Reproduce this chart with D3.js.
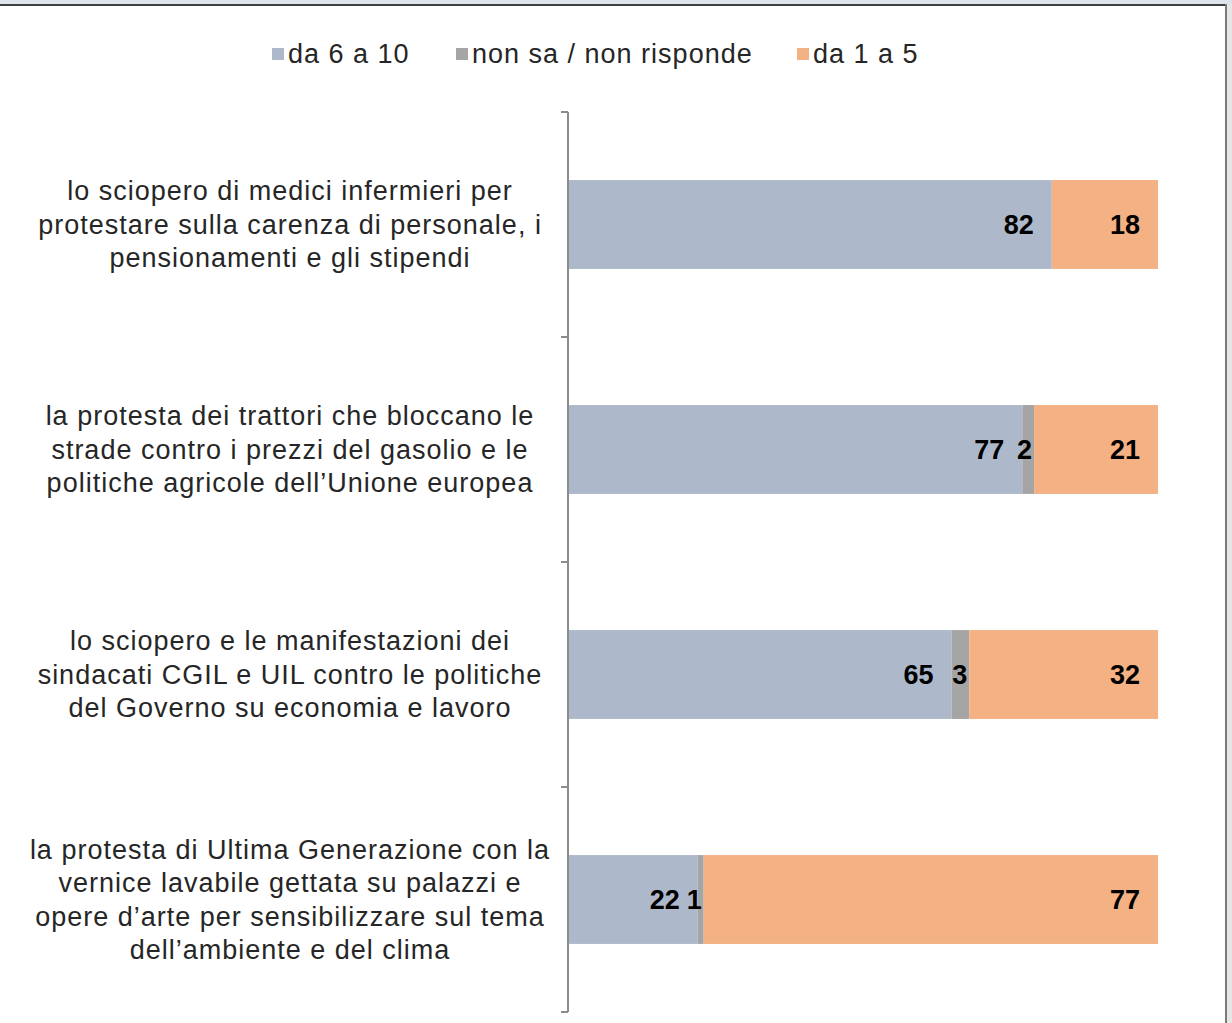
<!DOCTYPE html>
<html>
<head>
<meta charset="utf-8">
<script src="https://cdn.jsdelivr.net/npm/d3@7"></script>
<style>
  body { margin: 0; background: #fff; }
  svg { display: block; }
</style>
</head>
<body>
<div id="chart"></div>
<script>
// Data.
const categories = ["q1", "q2", "q3", "q4"];
const categoryLabels = [
    ["lo sciopero di medici infermieri per", "protestare sulla carenza di personale, i", "pensionamenti e gli stipendi"],
    ["la protesta dei trattori che bloccano le", "strade contro i prezzi del gasolio e le", "politiche agricole dell\u2019Unione europea"],
    ["lo sciopero e le manifestazioni dei", "sindacati CGIL e UIL contro le politiche", "del Governo su economia e lavoro"],
    ["la protesta di Ultima Generazione con la", "vernice lavabile gettata su palazzi e", "opere d\u2019arte per sensibilizzare sul tema", "dell\u2019ambiente e del clima"]
];
const seriesNames = ["da 6 a 10", "non sa / non risponde", "da 1 a 5"];
const high = [82, 77, 65, 22];
const dontKnow = [0, 2, 3, 1];
const low = [18, 21, 32, 77];

const width = 1232;
const height = 1023;
const colors = ["#adb9ca", "#a5a5a5", "#f4b183"];
const font = "'Liberation Sans', Arial, sans-serif";

// Chart area
const plotLeft = 568;
const plotRight = 1158;
const plotTop = 112;
const plotBottom = 1012;

const x = d3.scaleLinear().domain([0, 100]).range([plotLeft, plotRight]);

// Band scale with the category boundaries (for the ticks)
const yOuter = d3.scaleBand().domain(categories).range([plotTop, plotBottom]).padding(0);
// Band scale for the bars themselves
const y = d3.scaleBand().domain(categories).range([plotTop, plotBottom])
    .paddingInner(0.605).paddingOuter(0.3025);

const stackData = categories.map((c, i) => ({
    cat: c, high: high[i], dk: dontKnow[i], low: low[i]
}));
const keys = ["high", "dk", "low"];
const series = d3.stack().keys(keys)(stackData);

const svg = d3.select("#chart").append("svg")
    .attr("width", width)
    .attr("height", height)
    .attr("viewBox", [0, 0, width, height]);

// Window frame (top strip and right border)
svg.append("rect").attr("x", 0).attr("y", 0).attr("width", width).attr("height", 4).attr("fill", "#dde4ee");
svg.append("rect").attr("x", 0).attr("y", 4).attr("width", width).attr("height", 2).attr("fill", "#3f3f3f");
svg.append("rect").attr("x", 1225).attr("y", 4).attr("width", 2).attr("height", height).attr("fill", "#7a7a7a");
svg.append("rect").attr("x", 1227).attr("y", 4).attr("width", 5).attr("height", height).attr("fill", "#e6e6e6");

// Legend
const legendItems = [
    { name: seriesNames[0], x: 272 },
    { name: seriesNames[1], x: 456 },
    { name: seriesNames[2], x: 797 }
];
const legend = svg.selectAll(".legend")
    .data(legendItems)
    .enter().append("g")
    .attr("class", "legend")
    .attr("transform", d => `translate(${d.x},54)`);
legend.append("rect")
    .attr("x", 0).attr("y", -6)
    .attr("width", 12).attr("height", 12)
    .attr("fill", (d, i) => colors[i]);
legend.append("text")
    .attr("x", 16)
    .attr("dy", "0.35em")
    .style("font", `27px ${font}`)
    .style("letter-spacing", "1px")
    .attr("fill", "#262626")
    .text(d => d.name);

// Bars
svg.append("g")
    .selectAll("g")
    .data(series)
    .join("g")
    .attr("fill", (d, i) => colors[i])
    .selectAll("rect")
    .data(d => d)
    .join("rect")
    .attr("x", d => x(d[0]))
    .attr("y", d => y(d.data.cat))
    .attr("width", d => x(d[1]) - x(d[0]))
    .attr("height", y.bandwidth());

// Value labels, right aligned inside each segment
series.forEach((s, si) => {
    svg.append("g")
        .selectAll("text")
        .data(s.filter(d => d[1] - d[0] > 0))
        .join("text")
        .attr("x", d => x(d[1]) - (si === 1 ? 2 : 18))
        .attr("y", d => y(d.data.cat) + y.bandwidth() / 2)
        .attr("dy", "0.35em")
        .attr("text-anchor", "end")
        .style("font", `bold 27px ${font}`)
        .attr("fill", "#000")
        .text(d => d[1] - d[0]);
});

// Vertical axis with ticks at category boundaries
const axis = svg.append("g").attr("stroke", "#8c8c8c").attr("stroke-width", 2);
axis.append("line")
    .attr("x1", plotLeft).attr("x2", plotLeft)
    .attr("y1", plotTop).attr("y2", plotBottom);
const tickPos = categories.map(c => yOuter(c)).concat([plotBottom]);
axis.selectAll(".tick")
    .data(tickPos)
    .join("line")
    .attr("class", "tick")
    .attr("x1", plotLeft - 7).attr("x2", plotLeft)
    .attr("y1", d => d).attr("y2", d => d);

// Category labels, centered text blocks left of the axis
const lineHeight = 33.5;
const labelGroups = svg.append("g")
    .selectAll("text")
    .data(categories)
    .join("text")
    .attr("text-anchor", "middle")
    .style("font", `27px ${font}`)
    .style("letter-spacing", "1px")
    .attr("fill", "#262626")
    .attr("transform", (c, i) => {
        const n = categoryLabels[i].length;
        const cy = y(c) + y.bandwidth() / 2 - (n - 1) * lineHeight / 2;
        return `translate(290,${cy})`;
    });
labelGroups.selectAll("tspan")
    .data((c, i) => categoryLabels[i])
    .join("tspan")
    .attr("x", 0)
    .attr("y", (d, j) => j * lineHeight)
    .attr("dy", "0.35em")
    .text(d => d);
</script>
</body>
</html>
